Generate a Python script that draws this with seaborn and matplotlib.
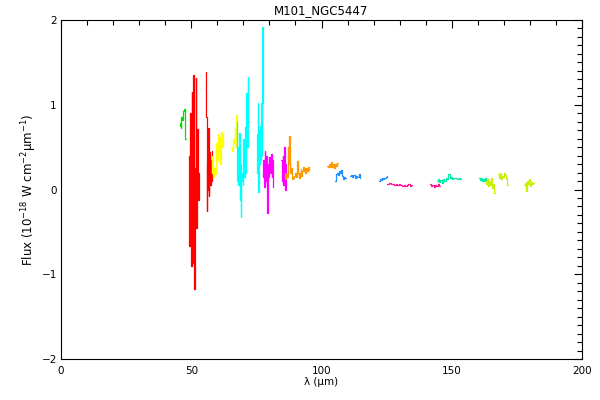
import numpy as np
import pandas as pd
import matplotlib
matplotlib.use("Agg")
import matplotlib.pyplot as plt
import seaborn as sns
from matplotlib.ticker import MultipleLocator

# ---- spectral pieces: wavelength (um) and flux (1e-18 W cm-2 um-1) ----
green_wl = [45.7, 45.9, 46.1, 46.4, 46.7, 47.0, 47.3, 47.6, 47.9]
green_fx = [0.75, 0.78, 0.72, 0.86, 0.82, 0.93, 0.95, 0.88, 0.60]

red1_wl = [49.1, 49.4, 49.7, 50.0, 50.3, 50.6, 50.9, 51.2, 51.5, 51.8, 52.1, 52.4, 52.7, 52.9]
red1_fx = [0.40, -0.67, 0.90, -0.90, 1.15, -0.87, 1.35, -1.17, 0.25, 1.31, -0.45, 0.71, -0.12, 0.20]

red2_wl = [55.7, 55.9, 56.1, 56.3, 56.5, 56.7, 56.9, 57.1, 57.3, 57.5, 57.7, 57.9]
red2_fx = [1.39, 0.86, -0.25, 0.30, 0.00, 0.73, -0.08, 0.44, 0.05, 0.35, 0.10, 0.45]

yel1_wl = [57.8, 58.0, 58.3, 58.6, 58.9, 59.2, 59.5, 59.8, 60.1, 60.4, 60.7, 61.0, 61.3, 61.6, 61.9, 62.2]
yel1_fx = [0.40, 0.20, 0.35, 0.15, 0.25, 0.18, 0.30, 0.55, 0.35, 0.66, 0.45, 0.62, 0.30, 0.68, 0.50, 0.66]

yel2_wl = [65.6, 65.9, 66.2, 66.5, 66.8, 67.1, 67.4, 67.6]
yel2_fx = [0.50, 0.45, 0.60, 0.55, 0.72, 0.50, 0.88, 0.60]

cyan1_wl = [67.6, 67.8, 68.0, 68.2, 68.5, 68.7, 68.9, 69.1, 69.3, 69.6, 69.9, 70.2, 70.5,
            70.8, 71.0, 71.3, 71.5, 71.8, 72.0]
cyan1_fx = [0.80, 0.10, 0.50, 0.05, 0.67, -0.12, 0.30, -0.32, 0.10, 0.20, 0.05, 0.60, 0.15,
            0.74, 0.20, 1.14, 0.50, 1.33, 0.80]

cyan2_wl = [75.2, 75.4, 75.6, 75.8, 76.0, 76.2, 76.5, 76.7, 76.9, 77.1, 77.3, 77.5]
cyan2_fx = [0.65, 0.20, 1.02, -0.03, 0.70, 0.30, 0.75, 0.35, 1.02, 0.40, 1.92, 1.02]

mag1_wl = [77.4, 77.7, 78.0, 78.3, 78.6, 78.9, 79.2, 79.5, 79.8, 80.1, 80.4, 80.7, 81.0, 81.3, 81.5]
mag1_fx = [0.15, 0.35, 0.03, 0.45, 0.10, 0.40, -0.28, 0.30, 0.15, 0.38, 0.20, 0.42, 0.15, 0.35, 0.03]

mag2_wl = [84.6, 84.9, 85.2, 85.5, 85.8, 86.1, 86.4]
mag2_fx = [0.35, 0.10, 0.40, 0.05, 0.50, 0.00, 0.30]

ora1_wl = [85.8, 86.2, 86.5, 86.8, 87.1, 87.4, 87.6, 87.9, 88.2, 88.5, 88.8, 89.1, 89.4, 89.7,
           90.0, 90.3, 90.6, 90.9, 91.2, 91.5, 91.8, 92.1, 92.4, 92.7, 93.0, 93.3, 93.6, 93.9,
           94.2, 94.5, 94.8, 95.1, 95.3]
ora1_fx = [0.20, 0.12, 0.18, 0.15, 0.50, 0.30, 0.63, 0.40, 0.20, 0.25, 0.12, 0.15, 0.14, 0.16,
           0.20, 0.15, 0.30, 0.34, 0.20, 0.14, 0.20, 0.24, 0.16, 0.22, 0.27, 0.22, 0.25, 0.20,
           0.25, 0.22, 0.24, 0.27, 0.23]

ora2_wl = [102.2, 102.6, 103.0, 103.4, 103.8, 104.2, 104.6, 105.0, 105.4, 105.8, 106.2]
ora2_fx = [0.28, 0.26, 0.30, 0.27, 0.33, 0.27, 0.30, 0.25, 0.30, 0.28, 0.31]

blue1_wl = [105.3, 105.6, 105.9, 106.2, 106.6, 107.0, 107.4, 107.8, 108.2, 108.6, 109.0, 109.4]
blue1_fx = [0.10, 0.14, 0.18, 0.20, 0.17, 0.22, 0.19, 0.23, 0.16, 0.12, 0.15, 0.13]

blue2_wl = [111.0, 111.5, 112.0, 112.5, 113.0, 113.5, 114.0, 114.5, 114.8]
blue2_fx = [0.16, 0.17, 0.15, 0.17, 0.14, 0.16, 0.15, 0.18, 0.14]

blue3_wl = [122.1, 122.5, 122.9, 123.3, 123.7, 124.1, 124.5, 124.9, 125.3]
blue3_fx = [0.10, 0.12, 0.11, 0.13, 0.12, 0.14, 0.13, 0.15, 0.16]

pink1_wl = [125.2, 125.8, 126.4, 127.0, 127.6, 128.2, 128.8, 129.4, 130.0, 130.6, 131.2,
            131.8, 132.4, 133.0, 133.6, 134.2, 134.6]
pink1_fx = [0.07, 0.06, 0.08, 0.06, 0.07, 0.05, 0.07, 0.05, 0.06, 0.05, 0.04,
            0.05, 0.04, 0.05, 0.06, 0.04, 0.05]

pink2_wl = [141.8, 142.3, 142.8, 143.3, 143.8, 144.3, 144.8, 145.3]
pink2_fx = [0.06, 0.04, 0.05, 0.03, 0.05, 0.04, 0.06, 0.04]

aqua1_wl = [144.4, 144.9, 145.4, 145.9, 146.4, 146.9, 147.4, 147.9, 148.4, 148.9, 149.4,
            149.9, 150.4, 150.9, 151.4, 151.9, 152.4, 152.9, 153.5]
aqua1_fx = [0.10, 0.12, 0.09, 0.11, 0.08, 0.12, 0.10, 0.14, 0.12, 0.18, 0.13,
            0.15, 0.12, 0.14, 0.13, 0.14, 0.12, 0.13, 0.12]

aqua2_wl = [160.6, 161.0, 161.4, 161.8, 162.2, 162.6, 163.0, 163.4, 163.8]
aqua2_fx = [0.13, 0.11, 0.14, 0.10, 0.12, 0.10, 0.13, 0.11, 0.12]

lime1_wl = [163.0, 163.4, 163.8, 164.2, 164.6, 165.0, 165.4, 165.8, 166.2, 166.6]
lime1_fx = [0.10, 0.06, 0.12, 0.04, 0.10, 0.05, 0.13, 0.02, 0.06, -0.04]

lime2_wl = [167.9, 168.3, 168.7, 169.1, 169.5, 169.9, 170.3, 170.7, 171.1, 171.5]
lime2_fx = [0.18, 0.14, 0.20, 0.12, 0.16, 0.15, 0.20, 0.17, 0.13, 0.05]

lime3_wl = [177.8, 178.2, 178.6, 179.0, 179.4, 179.8, 180.2, 180.6, 181.0, 181.4]
lime3_fx = [0.05, 0.08, -0.02, 0.10, 0.06, 0.12, 0.04, 0.09, 0.06, 0.08]

segments = [
    ("green", green_wl, green_fx, "#00e000"),
    ("red1", red1_wl, red1_fx, "#ff0000"),
    ("red2", red2_wl, red2_fx, "#ff0000"),
    ("yel1", yel1_wl, yel1_fx, "#ffff00"),
    ("yel2", yel2_wl, yel2_fx, "#ffff00"),
    ("cyan1", cyan1_wl, cyan1_fx, "#00ffff"),
    ("cyan2", cyan2_wl, cyan2_fx, "#00ffff"),
    ("mag1", mag1_wl, mag1_fx, "#ff00ff"),
    ("mag2", mag2_wl, mag2_fx, "#ff00ff"),
    ("ora1", ora1_wl, ora1_fx, "#ff9900"),
    ("ora2", ora2_wl, ora2_fx, "#ff9900"),
    ("blue1", blue1_wl, blue1_fx, "#1e90ff"),
    ("blue2", blue2_wl, blue2_fx, "#1e90ff"),
    ("blue3", blue3_wl, blue3_fx, "#1e90ff"),
    ("pink1", pink1_wl, pink1_fx, "#ff1493"),
    ("pink2", pink2_wl, pink2_fx, "#ff1493"),
    ("aqua1", aqua1_wl, aqua1_fx, "#00eeaa"),
    ("aqua2", aqua2_wl, aqua2_fx, "#00eeaa"),
    ("lime1", lime1_wl, lime1_fx, "#ccee00"),
    ("lime2", lime2_wl, lime2_fx, "#ccee00"),
    ("lime3", lime3_wl, lime3_fx, "#ccee00"),
]

df = pd.concat([pd.DataFrame({"wl": w, "flux": f, "seg": n}) for n, w, f, c in segments],
               ignore_index=True)
pal = {n: c for n, w, f, c in segments}

sns.set_style("white")
plt.rcParams['font.family'] = ['DejaVu Sans']
plt.rcParams.update({"text.color": "black", "axes.labelcolor": "black",
                     "xtick.color": "black", "ytick.color": "black"})

fig = plt.figure(figsize=(6, 4), dpi=100)
ax = fig.add_axes([61/600, 41/400, 521/600, 339/400])

sns.lineplot(data=df, x="wl", y="flux", hue="seg", palette=pal, estimator=None,
             sort=False, legend=False, lw=0.9, drawstyle="steps-mid", ax=ax)

ax.set_xlim(0, 200); ax.set_ylim(-2, 2)
ax.xaxis.set_major_locator(MultipleLocator(50)); ax.xaxis.set_minor_locator(MultipleLocator(10))
ax.yaxis.set_major_locator(MultipleLocator(1)); ax.yaxis.set_minor_locator(MultipleLocator(0.1))
ax.tick_params(which="both", direction="in", top=True, right=True, color="black", width=0.8)
ax.tick_params(which="major", length=5.5, labelsize=7.5, pad=5)
ax.tick_params(which="minor", length=3.3)
ax.tick_params(axis="y", which="major", pad=3)
for s in ax.spines.values():
    s.set_color("black"); s.set_linewidth(0.8)

ax.set_title("M101_NGC5447", fontsize=8.5, pad=4, color="black")
ax.set_xlabel("λ (μm)", fontsize=7.5, labelpad=1)
ax.set_ylabel(r"Flux (10$^{-18}$ W cm$^{-2}$μm$^{-1}$)", fontsize=8.5, labelpad=2)

fig.savefig("out.png", dpi=100)
